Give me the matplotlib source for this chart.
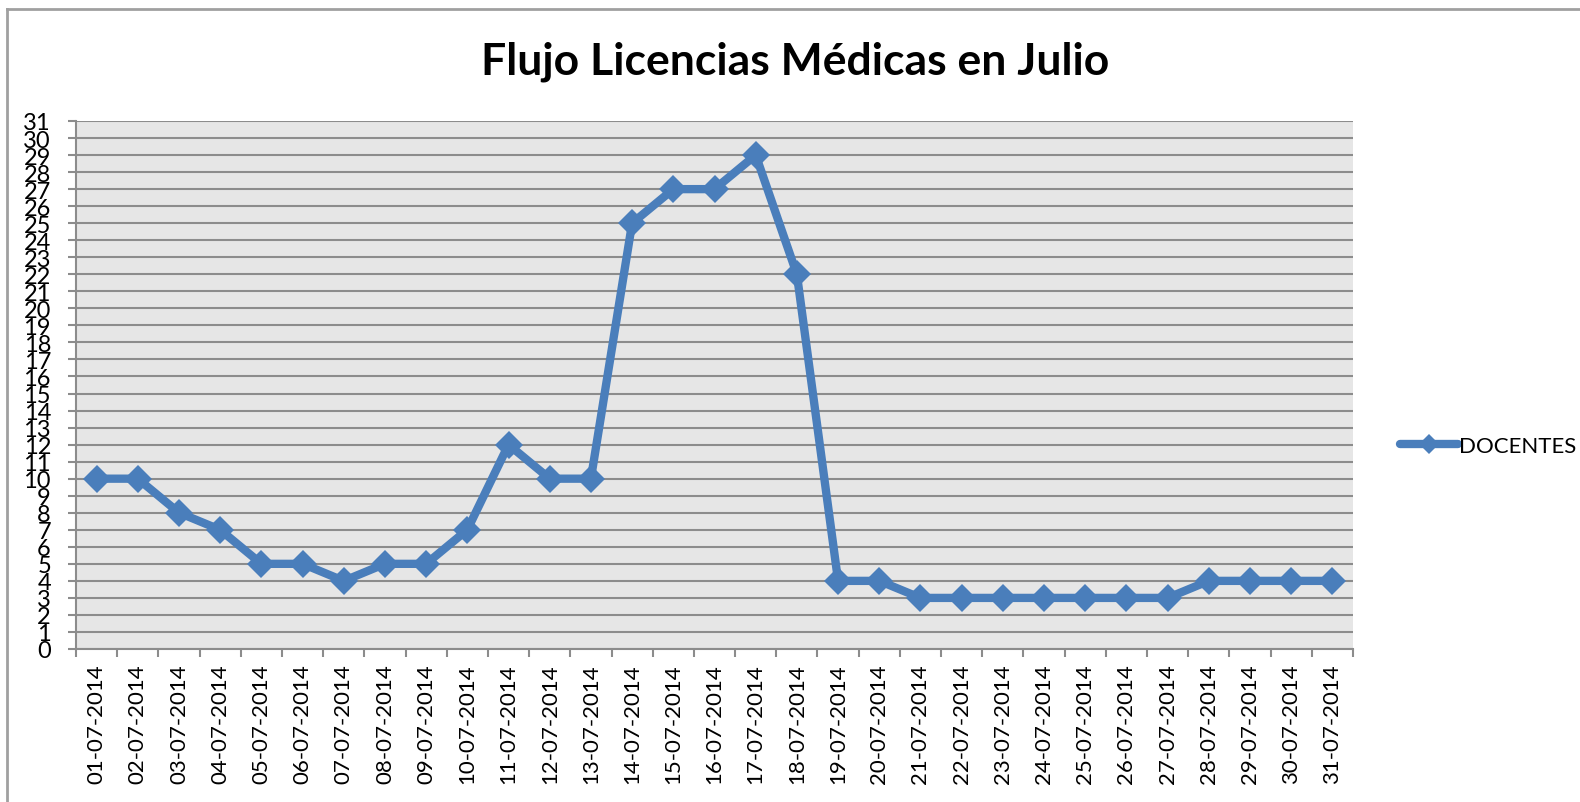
import matplotlib
matplotlib.use("Agg")
import matplotlib.pyplot as plt
from matplotlib.lines import Line2D

plt.rcParams['font.family'] = ['Lato', 'DejaVu Sans']

# datos
fechas = ["%02d-07-2014" % d for d in range(1, 32)]
docentes = [10, 10, 8, 7, 5, 5, 4, 5, 5, 7, 12, 10, 10, 25, 27, 27, 29, 22,
            4, 4, 3, 3, 3, 3, 3, 3, 3, 4, 4, 4, 4]
y_ticks = list(range(0, 32))

W, H = 1580, 803
fig = plt.figure(figsize=(W / 100, H / 100), dpi=100)
ax = fig.add_axes([76 / W, 1 - 650 / H, 1277 / W, 528 / H])

azul = "#4A7EBB"
gris = "#8C8C8C"

x = list(range(len(fechas)))
ax.plot(x, docentes, color=azul, linewidth=6, marker="D", markersize=14,
        markeredgewidth=0, markerfacecolor=azul,
        label="DOCENTES", solid_joinstyle="round", solid_capstyle="round", zorder=3)

ax.set_facecolor("#E6E6E6")
ax.set_xlim(-0.5, len(fechas) - 0.5)
ax.set_ylim(0, 31)
ax.set_yticks(y_ticks)
ax.set_yticklabels([str(v) for v in y_ticks], fontsize=17)
ax.set_xticks(x)
ax.set_xticklabels(fechas, rotation=90, fontsize=16)
ax.set_xticks([i - 0.5 for i in range(len(fechas) + 1)], minor=True)
ax.tick_params(axis="x", which="major", length=0, pad=10)
ax.tick_params(axis="x", which="minor", length=6, width=1.5, color=gris)
ax.tick_params(axis="y", length=6, width=1.5, color=gris, pad=12)
ax.grid(axis="y", color=gris, linewidth=1.5)
ax.set_axisbelow(True)
for s in ["top", "right"]:
    ax.spines[s].set_visible(False)
for s in ["left", "bottom"]:
    ax.spines[s].set_color(gris)
    ax.spines[s].set_linewidth(1.5)

fig.text(795 / W, 1 - 62 / H, "Flujo Licencias Médicas en Julio",
         ha="center", va="center", fontsize=32, fontweight="bold")

fig.legend(loc="center left", bbox_to_anchor=(1380 / W, 1 - 447 / H),
           frameon=False, fontsize=16, handlelength=2.6, handletextpad=0.05,
           numpoints=1, markerscale=0.75)

# borde exterior del grafico
fig.add_artist(Line2D([7 / W, 1], [1 - 10 / H, 1 - 10 / H], color="#A0A0A0", linewidth=2))
fig.add_artist(Line2D([7 / W, 7 / W], [1 - 10 / H, 0], color="#A0A0A0", linewidth=2))

fig.savefig("out.png", dpi=100)
